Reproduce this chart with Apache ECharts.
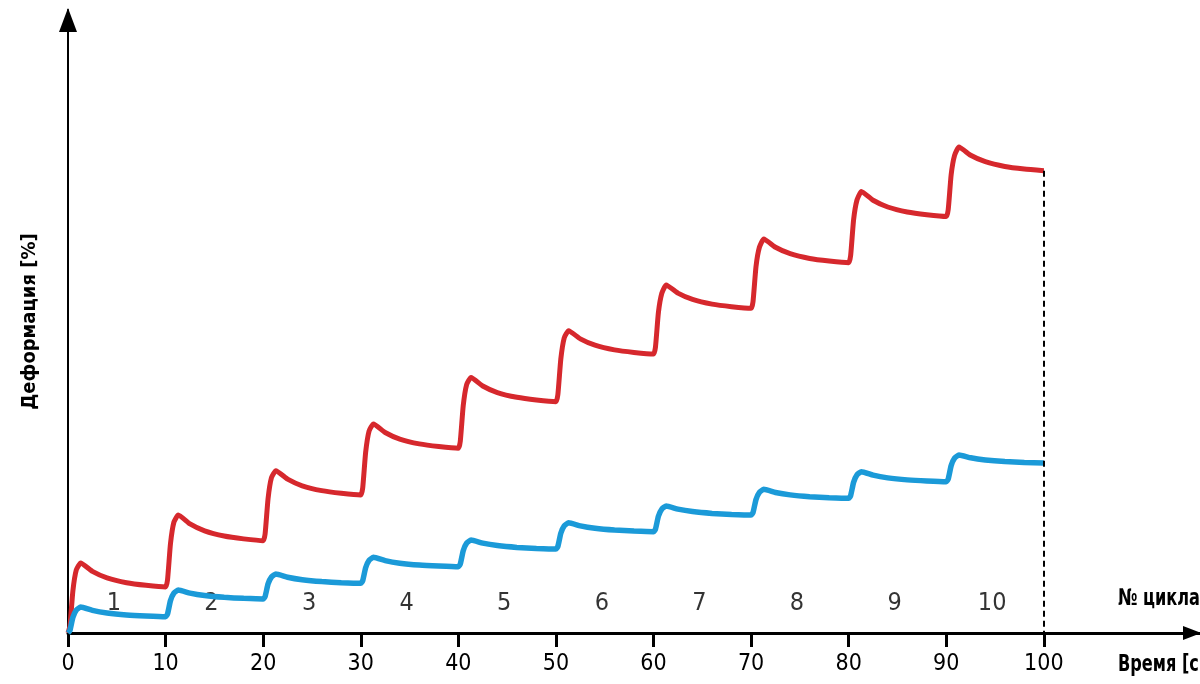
<!DOCTYPE html>
<html>
<head>
<meta charset="utf-8">
<script src="https://cdn.jsdelivr.net/npm/echarts@6/dist/echarts.min.js"></script>
<style>
html,body{margin:0;padding:0;background:#fff;}
#c{width:1200px;height:684px;}
</style>
</head>
<body>
<div id="c"></div>
<script>
// Time [s]
const timeS = [0,
  0.2,0.5,0.85,1.3,2.5,4,6,8,10,
  10.2,10.5,10.85,11.3,12.5,14,16,18,20,
  20.2,20.5,20.85,21.3,22.5,24,26,28,30,
  30.2,30.5,30.85,31.3,32.5,34,36,38,40,
  40.2,40.5,40.85,41.3,42.5,44,46,48,50,
  50.2,50.5,50.85,51.3,52.5,54,56,58,60,
  60.2,60.5,60.85,61.3,62.5,64,66,68,70,
  70.2,70.5,70.85,71.3,72.5,74,76,78,80,
  80.2,80.5,80.85,81.3,82.5,84,86,88,90,
  90.2,90.5,90.85,91.3,92.5,94,96,98,100];
// Deformation, red curve
const redDeform = [0,
  1.12,6.74,10.12,11.24,9.89,8.85,8.07,7.65,7.38,
  8.54,14.32,17.78,18.94,17.50,16.39,15.56,15.11,14.82,
  15.94,21.56,24.93,26.05,24.69,23.63,22.85,22.42,22.15,
  23.29,28.99,32.41,33.55,32.19,31.13,30.35,29.92,29.65,
  30.79,36.47,39.87,41.01,39.65,38.60,37.83,37.40,37.13,
  38.27,43.96,47.38,48.52,47.21,46.20,45.45,45.04,44.78,
  45.89,51.43,54.53,55.86,54.55,53.54,52.79,52.38,52.12,
  53.23,58.79,61.91,63.24,61.91,60.88,60.12,59.71,59.44,
  60.58,66.30,69.50,70.87,69.46,68.38,67.57,67.13,66.85,
  67.97,73.55,76.67,78.01,76.68,75.65,74.89,74.48,74.21];
// Deformation, blue curve
const blueDeform = [0,
  0.42,2.50,3.67,4.17,3.63,3.21,2.90,2.73,2.62,
  3.05,5.19,6.39,6.90,6.40,6.01,5.72,5.56,5.46,
  5.86,7.87,8.99,9.47,8.95,8.55,8.25,8.08,7.98,
  8.40,10.48,11.65,12.15,11.62,11.21,10.91,10.75,10.64,
  11.07,13.21,14.42,14.93,14.42,14.03,13.74,13.58,13.48,
  13.90,16.01,17.19,17.70,17.20,16.81,16.52,16.36,16.26,
  16.67,18.74,19.89,20.39,19.88,19.49,19.20,19.04,18.94,
  19.35,21.42,22.57,23.07,22.56,22.17,21.88,21.72,21.62,
  22.05,24.18,25.38,25.89,25.33,24.90,24.58,24.40,24.29,
  24.72,26.86,28.06,28.57,28.12,27.78,27.52,27.38,27.29];
const cycleLabels = ['1','2','3','4','5','6','7','8','9','10'];
const tickValues = [0,10,20,30,40,50,60,70,80,90,100];
const yTitle = 'Деформация [%]';
const cycleTitle = '№ цикла';
const timeTitle = 'Время [с]';

const FONT = '"Liberation Sans Narrow","DejaVu Sans Condensed","Liberation Sans",sans-serif';
const red = timeS.map((t,i)=>[t, redDeform[i]]);
const blue = timeS.map((t,i)=>[t, blueDeform[i]]);
const cycleY = 4.8;
const cyc = cycleLabels.map((s,i)=>({value:[i*10+4.7, cycleY], name:s}));
const lastT = timeS[timeS.length-1];
const lastRed = redDeform[redDeform.length-1];

const chart = echarts.init(document.getElementById('c'), null, {renderer:'canvas'});
chart.setOption({
  animation:false,
  backgroundColor:'#fff',
  grid:{left:68, right:0, top:10, bottom:51, outerBoundsMode:'none', containLabel:false},
  xAxis:{
    type:'value', min:0, max:116,
    splitLine:{show:false},
    axisLine:{show:true, lineStyle:{color:'#000', width:3}, symbol:['none','triangle'], symbolSize:[14,18], symbolOffset:[0,-8]},
    axisTick:{show:true, customValues:tickValues, length:14, lineStyle:{color:'#000', width:3}},
    axisLabel:{show:true, customValues:tickValues, margin:20, fontFamily:FONT, fontSize:23, color:'#000'}
  },
  yAxis:{
    type:'value', min:0, max:100,
    splitLine:{show:false},
    axisTick:{show:false},
    axisLabel:{show:false},
    axisLine:{show:true, lineStyle:{color:'#000', width:2}, symbol:['none','triangle'], symbolSize:[18,24], symbolOffset:[0,-10]},
    name:yTitle, nameLocation:'middle', nameRotate:90, nameGap:28,
    nameTextStyle:{fontFamily:FONT, fontSize:20, fontWeight:'bold', color:'#000'}
  },
  graphic:[
    {type:'text', x:1118, y:588, scaleX:0.78, style:{text:cycleTitle, font:'bold 23px '+FONT, fill:'#000'}},
    {type:'text', x:1118, y:654, scaleX:0.78, style:{text:timeTitle, font:'bold 23px '+FONT, fill:'#000'}}
  ],
  series:[
    {type:'line', data:red, showSymbol:false, smooth:0.15,
     lineStyle:{color:'#d6282d', width:5}, z:3,
     markLine:{silent:true, symbol:['none','none'], label:{show:false},
       lineStyle:{color:'#000', type:[6,4], width:2},
       data:[[{coord:[lastT,lastRed]},{coord:[lastT,0]}]]}},
    {type:'line', data:blue, showSymbol:false, smooth:0.15,
     lineStyle:{color:'#1b9ad8', width:5.5}, z:3},
    {type:'scatter', data:cyc, symbolSize:0, silent:true,
     label:{show:true, position:'inside', formatter:'{b}', fontFamily:FONT, fontSize:25, color:'#000'}}
  ]
});
</script>
</body>
</html>
